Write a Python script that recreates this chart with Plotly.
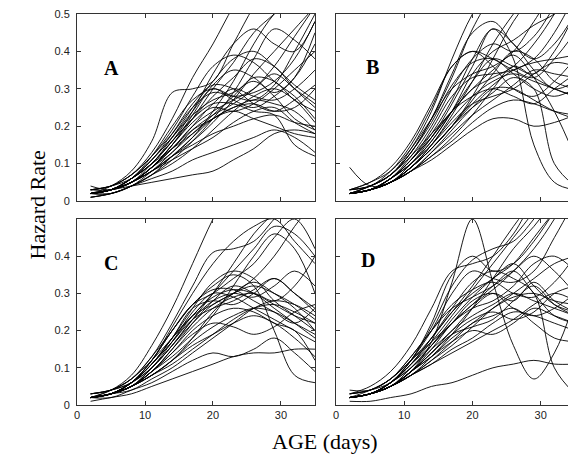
import plotly.graph_objects as go
from plotly.subplots import make_subplots

ages = [2, 5, 8, 11, 14, 17, 20, 23, 26, 29, 32, 35]

curves_a = [
    [0.02, 0.03, 0.06, 0.10, 0.16, 0.22, 0.28, 0.33, 0.38, 0.36, 0.30, 0.25],
    [0.02, 0.03, 0.05, 0.09, 0.14, 0.20, 0.26, 0.30, 0.28, 0.27, 0.30, 0.35],
    [0.03, 0.04, 0.07, 0.12, 0.19, 0.28, 0.36, 0.39, 0.37, 0.32, 0.28, 0.22],
    [0.02, 0.03, 0.06, 0.11, 0.17, 0.24, 0.30, 0.27, 0.25, 0.28, 0.33, 0.45],
    [0.01, 0.02, 0.04, 0.07, 0.12, 0.17, 0.22, 0.25, 0.27, 0.26, 0.24, 0.19],
    [0.02, 0.03, 0.05, 0.08, 0.11, 0.14, 0.17, 0.21, 0.24, 0.25, 0.21, 0.18],
    [0.02, 0.02, 0.04, 0.06, 0.08, 0.11, 0.13, 0.15, 0.17, 0.19, 0.17, 0.13],
    [0.02, 0.04, 0.08, 0.16, 0.29, 0.30, 0.32, 0.42, 0.52, 0.60, 0.60, 0.60],
    [0.03, 0.04, 0.07, 0.13, 0.22, 0.33, 0.42, 0.52, 0.60, 0.60, 0.60, 0.60],
    [0.02, 0.03, 0.06, 0.10, 0.16, 0.24, 0.34, 0.42, 0.46, 0.42, 0.40, 0.48],
    [0.02, 0.03, 0.05, 0.09, 0.13, 0.19, 0.23, 0.26, 0.30, 0.36, 0.44, 0.52],
    [0.01, 0.02, 0.04, 0.07, 0.10, 0.14, 0.19, 0.24, 0.28, 0.30, 0.27, 0.21],
    [0.02, 0.03, 0.05, 0.09, 0.15, 0.21, 0.25, 0.24, 0.26, 0.30, 0.35, 0.40],
    [0.02, 0.03, 0.06, 0.11, 0.18, 0.26, 0.31, 0.30, 0.26, 0.24, 0.27, 0.31],
    [0.03, 0.04, 0.06, 0.10, 0.14, 0.18, 0.22, 0.24, 0.22, 0.20, 0.18, 0.17],
    [0.02, 0.03, 0.04, 0.05, 0.06, 0.07, 0.08, 0.11, 0.14, 0.18, 0.19, 0.18],
    [0.02, 0.03, 0.05, 0.08, 0.12, 0.16, 0.21, 0.27, 0.34, 0.40, 0.46, 0.52],
    [0.02, 0.03, 0.06, 0.10, 0.17, 0.25, 0.32, 0.38, 0.40, 0.36, 0.31, 0.27],
    [0.02, 0.03, 0.05, 0.09, 0.14, 0.20, 0.24, 0.27, 0.30, 0.34, 0.30, 0.26],
    [0.03, 0.04, 0.07, 0.12, 0.18, 0.25, 0.29, 0.28, 0.29, 0.32, 0.38, 0.48],
    [0.02, 0.02, 0.04, 0.08, 0.13, 0.18, 0.23, 0.28, 0.33, 0.32, 0.27, 0.24],
    [0.02, 0.03, 0.05, 0.08, 0.12, 0.15, 0.18, 0.20, 0.22, 0.23, 0.21, 0.20],
    [0.04, 0.03, 0.05, 0.09, 0.15, 0.22, 0.30, 0.37, 0.45, 0.50, 0.55, 0.58],
    [0.02, 0.03, 0.06, 0.12, 0.20, 0.27, 0.30, 0.28, 0.27, 0.31, 0.40, 0.50],
    [0.01, 0.02, 0.04, 0.07, 0.11, 0.16, 0.22, 0.29, 0.38, 0.46, 0.43, 0.38],
    [0.02, 0.03, 0.05, 0.09, 0.14, 0.19, 0.22, 0.25, 0.26, 0.24, 0.25, 0.30],
    [0.02, 0.03, 0.06, 0.11, 0.17, 0.23, 0.27, 0.29, 0.32, 0.28, 0.22, 0.19],
    [0.02, 0.03, 0.05, 0.08, 0.12, 0.17, 0.24, 0.32, 0.42, 0.50, 0.55, 0.60],
    [0.03, 0.03, 0.05, 0.09, 0.15, 0.23, 0.31, 0.35, 0.33, 0.29, 0.33, 0.42],
    [0.02, 0.03, 0.05, 0.10, 0.16, 0.22, 0.26, 0.26, 0.24, 0.23, 0.15, 0.12],
]

curves_b = [
    [0.02, 0.04, 0.07, 0.13, 0.22, 0.33, 0.46, 0.55, 0.60, 0.60, 0.60, 0.60],
    [0.03, 0.04, 0.08, 0.15, 0.25, 0.36, 0.40, 0.38, 0.35, 0.33, 0.38, 0.45],
    [0.02, 0.03, 0.06, 0.11, 0.18, 0.27, 0.38, 0.46, 0.42, 0.35, 0.30, 0.32],
    [0.02, 0.03, 0.05, 0.09, 0.14, 0.20, 0.27, 0.34, 0.40, 0.38, 0.32, 0.30],
    [0.09, 0.04, 0.05, 0.08, 0.12, 0.17, 0.23, 0.30, 0.36, 0.33, 0.30, 0.28],
    [0.02, 0.03, 0.05, 0.08, 0.11, 0.15, 0.19, 0.22, 0.22, 0.20, 0.21, 0.23],
    [0.02, 0.03, 0.06, 0.10, 0.16, 0.24, 0.32, 0.38, 0.36, 0.34, 0.40, 0.50],
    [0.03, 0.05, 0.09, 0.16, 0.26, 0.36, 0.40, 0.36, 0.30, 0.28, 0.32, 0.38],
    [0.02, 0.03, 0.05, 0.10, 0.17, 0.26, 0.36, 0.46, 0.38, 0.15, 0.05, 0.03],
    [0.02, 0.03, 0.06, 0.12, 0.20, 0.30, 0.38, 0.42, 0.40, 0.44, 0.52, 0.60],
    [0.02, 0.03, 0.05, 0.09, 0.15, 0.22, 0.28, 0.32, 0.34, 0.32, 0.30, 0.28],
    [0.02, 0.03, 0.06, 0.11, 0.19, 0.28, 0.33, 0.34, 0.35, 0.38, 0.45, 0.55],
    [0.03, 0.04, 0.07, 0.14, 0.24, 0.38, 0.50, 0.58, 0.60, 0.60, 0.60, 0.60],
    [0.02, 0.03, 0.05, 0.08, 0.13, 0.19, 0.25, 0.30, 0.30, 0.27, 0.24, 0.22],
    [0.02, 0.03, 0.06, 0.10, 0.15, 0.21, 0.26, 0.28, 0.30, 0.34, 0.37, 0.36],
    [0.02, 0.04, 0.07, 0.12, 0.18, 0.24, 0.30, 0.33, 0.36, 0.42, 0.50, 0.60],
    [0.02, 0.03, 0.05, 0.09, 0.14, 0.20, 0.28, 0.38, 0.48, 0.55, 0.60, 0.60],
    [0.02, 0.03, 0.06, 0.11, 0.17, 0.24, 0.28, 0.30, 0.28, 0.26, 0.30, 0.34],
    [0.02, 0.03, 0.05, 0.08, 0.12, 0.16, 0.21, 0.25, 0.27, 0.26, 0.24, 0.23],
    [0.03, 0.04, 0.07, 0.13, 0.21, 0.31, 0.37, 0.38, 0.34, 0.30, 0.28, 0.30],
    [0.02, 0.03, 0.05, 0.09, 0.15, 0.23, 0.32, 0.42, 0.50, 0.57, 0.60, 0.60],
    [0.02, 0.03, 0.06, 0.11, 0.17, 0.24, 0.30, 0.35, 0.39, 0.33, 0.24, 0.12],
    [0.02, 0.03, 0.05, 0.09, 0.14, 0.20, 0.25, 0.29, 0.33, 0.30, 0.10, 0.04],
    [0.02, 0.03, 0.06, 0.10, 0.16, 0.24, 0.34, 0.40, 0.43, 0.47, 0.50, 0.55],
    [0.02, 0.03, 0.05, 0.09, 0.14, 0.20, 0.26, 0.31, 0.35, 0.37, 0.38, 0.39],
    [0.03, 0.05, 0.08, 0.14, 0.22, 0.30, 0.34, 0.36, 0.40, 0.48, 0.56, 0.60],
    [0.02, 0.03, 0.05, 0.08, 0.13, 0.18, 0.23, 0.27, 0.31, 0.35, 0.34, 0.33],
    [0.02, 0.04, 0.07, 0.13, 0.22, 0.34, 0.45, 0.48, 0.42, 0.38, 0.42, 0.50],
]

curves_c = [
    [0.02, 0.04, 0.08, 0.16, 0.26, 0.38, 0.50, 0.60, 0.60, 0.60, 0.60, 0.60],
    [0.03, 0.04, 0.07, 0.13, 0.22, 0.32, 0.41, 0.42, 0.44, 0.50, 0.56, 0.60],
    [0.02, 0.03, 0.06, 0.11, 0.17, 0.24, 0.29, 0.31, 0.30, 0.27, 0.24, 0.22],
    [0.02, 0.03, 0.05, 0.09, 0.15, 0.22, 0.28, 0.32, 0.30, 0.26, 0.22, 0.18],
    [0.02, 0.03, 0.05, 0.08, 0.12, 0.18, 0.25, 0.30, 0.33, 0.30, 0.26, 0.20],
    [0.01, 0.02, 0.03, 0.05, 0.07, 0.09, 0.11, 0.13, 0.14, 0.14, 0.15, 0.15],
    [0.02, 0.02, 0.04, 0.06, 0.09, 0.12, 0.14, 0.13, 0.15, 0.18, 0.14, 0.09],
    [0.02, 0.03, 0.06, 0.12, 0.20, 0.27, 0.30, 0.34, 0.38, 0.45, 0.50, 0.42],
    [0.02, 0.03, 0.05, 0.10, 0.17, 0.25, 0.30, 0.29, 0.26, 0.23, 0.20, 0.17],
    [0.02, 0.03, 0.06, 0.11, 0.18, 0.26, 0.33, 0.36, 0.34, 0.28, 0.24, 0.20],
    [0.02, 0.03, 0.05, 0.09, 0.14, 0.20, 0.24, 0.26, 0.25, 0.22, 0.20, 0.12],
    [0.02, 0.03, 0.04, 0.07, 0.10, 0.14, 0.18, 0.22, 0.26, 0.28, 0.27, 0.24],
    [0.03, 0.04, 0.07, 0.13, 0.20, 0.27, 0.32, 0.35, 0.32, 0.20, 0.08, 0.06],
    [0.02, 0.03, 0.06, 0.10, 0.16, 0.22, 0.27, 0.30, 0.34, 0.40, 0.48, 0.55],
    [0.02, 0.03, 0.05, 0.09, 0.15, 0.21, 0.26, 0.29, 0.30, 0.28, 0.32, 0.40],
    [0.02, 0.03, 0.06, 0.12, 0.21, 0.30, 0.38, 0.44, 0.48, 0.50, 0.44, 0.38],
    [0.02, 0.03, 0.05, 0.08, 0.12, 0.17, 0.21, 0.24, 0.26, 0.25, 0.22, 0.19],
    [0.02, 0.03, 0.05, 0.09, 0.14, 0.19, 0.22, 0.21, 0.19, 0.21, 0.25, 0.27],
    [0.03, 0.04, 0.06, 0.10, 0.16, 0.23, 0.30, 0.38, 0.46, 0.52, 0.60, 0.60],
    [0.02, 0.03, 0.06, 0.11, 0.18, 0.26, 0.28, 0.27, 0.30, 0.34, 0.30, 0.26],
    [0.02, 0.03, 0.05, 0.08, 0.12, 0.16, 0.19, 0.22, 0.24, 0.22, 0.18, 0.13],
    [0.02, 0.03, 0.05, 0.10, 0.16, 0.23, 0.28, 0.30, 0.29, 0.32, 0.36, 0.32],
    [0.03, 0.04, 0.06, 0.11, 0.18, 0.24, 0.27, 0.30, 0.32, 0.30, 0.27, 0.23],
    [0.02, 0.03, 0.05, 0.09, 0.13, 0.18, 0.24, 0.32, 0.40, 0.46, 0.42, 0.30],
    [0.02, 0.03, 0.06, 0.12, 0.20, 0.27, 0.31, 0.31, 0.28, 0.25, 0.22, 0.26],
    [0.02, 0.03, 0.05, 0.08, 0.11, 0.15, 0.19, 0.23, 0.26, 0.27, 0.25, 0.22],
    [0.02, 0.03, 0.06, 0.11, 0.17, 0.23, 0.26, 0.28, 0.31, 0.34, 0.30, 0.25],
    [0.02, 0.04, 0.07, 0.12, 0.18, 0.24, 0.30, 0.36, 0.42, 0.48, 0.46, 0.40],
]

curves_d = [
    [0.02, 0.03, 0.05, 0.09, 0.17, 0.33, 0.50, 0.33, 0.16, 0.07, 0.14, 0.28],
    [0.01, 0.01, 0.02, 0.03, 0.05, 0.06, 0.08, 0.10, 0.11, 0.12, 0.11, 0.11],
    [0.02, 0.03, 0.06, 0.12, 0.20, 0.30, 0.36, 0.34, 0.33, 0.36, 0.45, 0.55],
    [0.02, 0.03, 0.05, 0.09, 0.14, 0.20, 0.24, 0.27, 0.30, 0.28, 0.26, 0.24],
    [0.03, 0.04, 0.07, 0.12, 0.18, 0.25, 0.30, 0.34, 0.38, 0.32, 0.27, 0.25],
    [0.02, 0.03, 0.05, 0.08, 0.11, 0.15, 0.18, 0.22, 0.25, 0.24, 0.22, 0.20],
    [0.02, 0.03, 0.05, 0.09, 0.13, 0.17, 0.20, 0.19, 0.22, 0.26, 0.24, 0.22],
    [0.02, 0.03, 0.06, 0.11, 0.17, 0.24, 0.31, 0.38, 0.45, 0.52, 0.60, 0.60],
    [0.03, 0.05, 0.09, 0.16, 0.26, 0.36, 0.38, 0.40, 0.46, 0.55, 0.60, 0.60],
    [0.02, 0.03, 0.06, 0.10, 0.15, 0.20, 0.26, 0.30, 0.28, 0.33, 0.28, 0.25],
    [0.02, 0.03, 0.05, 0.08, 0.11, 0.14, 0.17, 0.20, 0.23, 0.27, 0.30, 0.28],
    [0.04, 0.04, 0.07, 0.12, 0.17, 0.22, 0.27, 0.31, 0.36, 0.42, 0.50, 0.60],
    [0.02, 0.03, 0.06, 0.11, 0.18, 0.26, 0.33, 0.36, 0.34, 0.30, 0.10, 0.03],
    [0.02, 0.03, 0.05, 0.09, 0.14, 0.19, 0.23, 0.25, 0.23, 0.25, 0.30, 0.32],
    [0.02, 0.03, 0.06, 0.12, 0.21, 0.32, 0.39, 0.42, 0.44, 0.50, 0.58, 0.60],
    [0.02, 0.03, 0.05, 0.08, 0.12, 0.16, 0.21, 0.26, 0.30, 0.34, 0.38, 0.40],
    [0.03, 0.04, 0.06, 0.11, 0.16, 0.22, 0.28, 0.30, 0.26, 0.24, 0.26, 0.30],
    [0.02, 0.03, 0.05, 0.09, 0.15, 0.22, 0.27, 0.32, 0.36, 0.30, 0.24, 0.22],
    [0.02, 0.03, 0.06, 0.12, 0.22, 0.35, 0.40, 0.36, 0.38, 0.44, 0.52, 0.60],
    [0.02, 0.03, 0.05, 0.08, 0.12, 0.17, 0.22, 0.24, 0.26, 0.22, 0.18, 0.17],
    [0.02, 0.03, 0.05, 0.10, 0.16, 0.22, 0.26, 0.28, 0.32, 0.38, 0.40, 0.36],
    [0.02, 0.03, 0.06, 0.11, 0.18, 0.25, 0.32, 0.40, 0.48, 0.55, 0.60, 0.60],
    [0.02, 0.03, 0.05, 0.09, 0.14, 0.19, 0.21, 0.23, 0.28, 0.32, 0.27, 0.24],
    [0.03, 0.04, 0.07, 0.13, 0.20, 0.27, 0.31, 0.33, 0.30, 0.29, 0.33, 0.40],
    [0.02, 0.03, 0.05, 0.08, 0.13, 0.19, 0.26, 0.34, 0.42, 0.48, 0.55, 0.60],
    [0.02, 0.03, 0.05, 0.09, 0.13, 0.18, 0.22, 0.26, 0.29, 0.30, 0.28, 0.27],
    [0.02, 0.04, 0.07, 0.13, 0.20, 0.26, 0.29, 0.32, 0.36, 0.40, 0.36, 0.30],
    [0.02, 0.03, 0.06, 0.10, 0.16, 0.23, 0.29, 0.34, 0.38, 0.45, 0.52, 0.58],
]

panel_letters = ["A", "B", "C", "D"]
x_ticks = [0, 10, 20, 30]

panels = [(curves_a, 1, 1), (curves_b, 1, 2), (curves_c, 2, 1), (curves_d, 2, 2)]

fig = make_subplots(rows=2, cols=2)

for curves, r, c in panels:
    for ys in curves:
        fig.add_trace(go.Scatter(x=ages, y=ys, mode="lines",
                                 line=dict(color="black", width=0.9, shape="spline", smoothing=1),
                                 showlegend=False, hoverinfo="skip"),
                      row=r, col=c)

tick_font = dict(family="Liberation Sans, Arial", size=11, color="#222")
axis_common = dict(showline=True, linecolor="#333", linewidth=1, ticks="inside", ticklen=4,
                   tickcolor="#333", showgrid=False, zeroline=False, tickfont=tick_font)

# domains in paper fraction (plot area 77..568 px wide, 14..405 px tall)
x_dom = {1: [0.0, 0.4847], 2: [0.5275, 1.0]}
y_dom = {1: [0.5217, 1.0], 2: [0.0, 0.4757]}

for _, r, c in panels:
    fig.update_xaxes(axis_common, row=r, col=c, domain=x_dom[c],
                     range=[0, 35] if c == 1 else [0, 34.0],
                     tickvals=x_ticks, showticklabels=(r == 2), mirror="ticks")
    fig.update_yaxes(axis_common, row=r, col=c, domain=y_dom[r], range=[0, 0.5],
                     tickvals=[0, 0.1, 0.2, 0.3, 0.4, 0.5] if r == 1 else [0, 0.1, 0.2, 0.3, 0.4],
                     ticktext=["0", "0.1", "0.2", "0.3", "0.4", "0.5"] if r == 1 else ["0", "0.1", "0.2", "0.3", "0.4"],
                     showticklabels=(c == 1), mirror=("ticks" if c == 1 else False),
                     ticklabelstandoff=4)

letter_pos = [(0.105, 0.78), (0.12, 0.785), (0.105, 0.833), (0.10, 0.85)]
for i, letter in enumerate(panel_letters):
    xa = "x" if i == 0 else "x%d" % (i + 1)
    ya = "y" if i == 0 else "y%d" % (i + 1)
    fig.add_annotation(text="<b>%s</b>" % letter, xref=xa + " domain", yref=ya + " domain",
                       x=letter_pos[i][0], y=letter_pos[i][1], showarrow=False,
                       font=dict(family="Liberation Serif, Times New Roman", size=20, color="black"))

fig.add_annotation(text="Hazard Rate", xref="paper", yref="paper", x=-0.110, y=0.5115,
                   textangle=-90, showarrow=False,
                   font=dict(family="Liberation Serif, Times New Roman", size=22, color="black"))
fig.add_annotation(text="AGE (days)", xref="paper", yref="paper", x=0.505, y=-0.130,
                   showarrow=False,
                   font=dict(family="Liberation Serif, Times New Roman", size=22, color="black"))

fig.update_layout(width=568, height=470, margin=dict(l=77, r=0, t=14, b=65),
                  paper_bgcolor="white", plot_bgcolor="white")

# drop the default 8px body margin so the figure sits at the page corner
fig.write_html("out.html", config={"displayModeBar": False},
               post_script="document.body.style.margin='0';")
